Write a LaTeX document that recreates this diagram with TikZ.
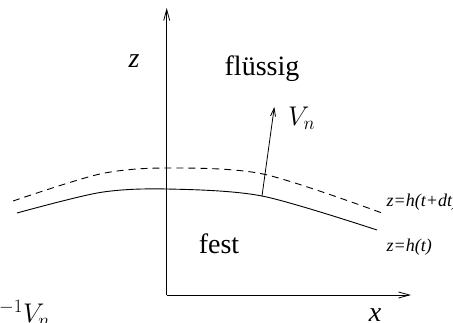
\RequirePackage{fix-cm}
\documentclass[tikz,border=0pt]{standalone}
\usepackage{fontspec}
\setmainfont{Liberation Serif}
\usetikzlibrary{arrows.meta}
\tikzset{
  axis/.style={line width=0.8pt, -{Straight Barb[length=11pt,width=6pt,line width=0.8pt]}},
  vec/.style={line width=0.8pt, -{Straight Barb[length=8pt,width=5pt,line width=0.8pt]}},
  surf/.style={line width=0.9pt},
  dsurf/.style={line width=0.9pt, dash pattern=on 7pt off 5pt},
  bigtext/.style={font=\fontsize{28}{30}\selectfont, inner sep=0pt},
  bigit/.style={font=\fontsize{28}{30}\selectfont\itshape, inner sep=0pt},
  mathlbl/.style={font=\fontsize{27}{30}\selectfont, inner sep=0pt, anchor=base west},
  smalllbl/.style={font=\fontsize{18}{20}\selectfont\itshape, inner sep=0pt, anchor=base west},
}
\begin{document}
\begin{tikzpicture}[x=1pt,y=-1pt]
\useasboundingbox (0,0) rectangle (453,322);
\coordinate (O) at (166.7,295);
\coordinate (zend) at (166.7,8);
\coordinate (xend) at (411,295);
\draw[axis] (O) -- (zend);
\draw[axis] (O) -- (xend);
\draw[surf] plot[smooth] coordinates {(17,213) (100,192.5) (167,189) (262,196) (377,230)};
\draw[dsurf] plot[smooth] coordinates {(13,201) (100,174) (167,168) (263,174) (382,213)};
\coordinate (base) at (262,196);
\coordinate (tip) at (274.3,107);
\draw[vec] (base) -- (tip);
\node[bigit, anchor=base] (zlab) at (134,67) {z};
\node[bigit, anchor=base] (xlab) at (375,321.5) {x};
\node[bigtext, anchor=base] (fl) at (262,75) {flüssig};
\node[bigtext, anchor=base] (fe) at (219,253.5) {fest};
\node[mathlbl] (vn) at (288,125) {$V_n$};
\node[mathlbl] (vb) at (-1,322) {$^{-1}V_n$};
\node[smalllbl] (h2) at (386.5,206) {z=h(t+dt)};
\node[smalllbl] (h1) at (386.5,251) {z=h(t)};
\end{tikzpicture}
\end{document}
